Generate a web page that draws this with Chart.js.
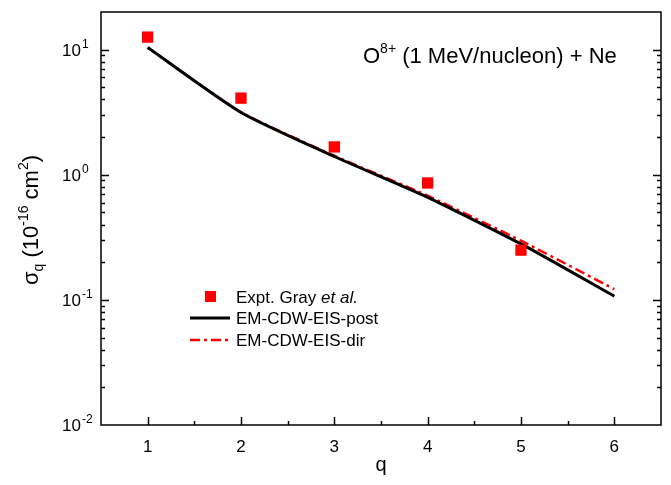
<!DOCTYPE html>
<html>
<head>
<meta charset="utf-8">
<script src="https://cdn.jsdelivr.net/npm/chart.js@4.4.0/dist/chart.umd.min.js"></script>
<style>
  html, body { margin: 0; padding: 0; background: #fff; }
  #wrap { width: 671px; height: 485px; }
</style>
</head>
<body>
<div id="wrap"><canvas id="c" width="671" height="485"></canvas></div>
<script>
// Single-electron capture cross sections, O8+ (1 MeV/nucleon) + Ne
const qValues = [1, 2, 3, 4, 5, 6];
const exptQ = [1, 2, 3, 4, 5];
const exptSigma = [12.6, 4.1, 1.67, 0.86, 0.25];
const postSigma = [10.4, 3.15, 1.40, 0.66, 0.28, 0.107];
const dirSigma = [10.4, 3.17, 1.42, 0.68, 0.297, 0.122];

const xTickValues = [1, 2, 3, 4, 5, 6];
const xTickLabels = ['1', '2', '3', '4', '5', '6'];
const yDecades = [0.01, 0.1, 1, 10];
const yExponents = ['-2', '-1', '0', '1'];

const FONT = '"Liberation Sans", Arial, Helvetica, sans-serif';
const RED = '#ff0000';

const pts = (xs, ys) => xs.map((x, i) => ({ x: x, y: ys[i] }));

// Frame, inward ticks, tick labels, axis titles, annotation and legend
const framePlugin = {
  id: 'frame',
  afterDraw(chart) {
    const ctx = chart.ctx;
    const a = chart.chartArea;
    const xs = chart.scales.x, ys = chart.scales.y;
    ctx.save();
    ctx.strokeStyle = '#000';
    ctx.fillStyle = '#000';
    ctx.lineWidth = 1.5;
    ctx.strokeRect(a.left, a.top, a.right - a.left, a.bottom - a.top);

    // x ticks (major + half-step minor), pointing up into the plot
    ctx.beginPath();
    for (let v = xs.min; v <= xs.max + 1e-9; v += 0.5) {
      const px = Math.round(xs.getPixelForValue(v)) + 0.5;
      if (px <= a.left + 1 || px >= a.right - 1) continue;
      const len = Number.isInteger(v) ? 8 : 4;
      ctx.moveTo(px, a.bottom);
      ctx.lineTo(px, a.bottom - len);
    }
    // y ticks on left and right
    for (const d of yDecades) {
      for (let k = 1; k <= 9; k++) {
        const v = d * k;
        if (v < ys.min || v > ys.max) continue;
        const py = Math.round(ys.getPixelForValue(v)) + 0.5;
        if (py <= a.top + 1 || py >= a.bottom - 1) continue;
        const len = k === 1 ? 8 : 4;
        ctx.moveTo(a.left, py); ctx.lineTo(a.left + len, py);
        ctx.moveTo(a.right, py); ctx.lineTo(a.right - len, py);
      }
    }
    ctx.stroke();

    // x tick labels
    ctx.font = '17px ' + FONT;
    ctx.textAlign = 'center';
    ctx.textBaseline = 'alphabetic';
    xTickValues.forEach((v, i) => {
      ctx.fillText(xTickLabels[i], xs.getPixelForValue(v), a.bottom + 27);
    });

    // y tick labels: 10 with superscript exponent
    yDecades.forEach((v, i) => {
      const py = ys.getPixelForValue(v);
      ctx.font = '17px ' + FONT;
      ctx.textAlign = 'right';
      ctx.fillText('10', 81, py + 6);
      ctx.font = '12px ' + FONT;
      ctx.textAlign = 'left';
      ctx.fillText(yExponents[i], 82, py - 2);
    });

    // x axis title
    ctx.font = '20px ' + FONT;
    ctx.textAlign = 'center';
    ctx.fillText('q', (a.left + a.right) / 2, 471);

    // y axis title, rotated: σq (10^-16 cm^2)
    ctx.save();
    ctx.translate(38, 220);
    ctx.rotate(-Math.PI / 2);
    const parts = [
      { t: 'σ', f: 22, dy: 0 },
      { t: 'q', f: 14, dy: 5 },
      { t: ' (10', f: 22, dy: 0 },
      { t: '-16', f: 14, dy: -10 },
      { t: ' cm', f: 22, dy: 0 },
      { t: '2', f: 14, dy: -10 },
      { t: ')', f: 22, dy: 0 }
    ];
    let total = 0;
    parts.forEach(p => { ctx.font = p.f + 'px ' + FONT; p.w = ctx.measureText(p.t).width; total += p.w; });
    let cx = -total / 2;
    ctx.textAlign = 'left';
    parts.forEach(p => {
      ctx.font = p.f + 'px ' + FONT;
      ctx.fillText(p.t, cx, p.dy);
      cx += p.w;
    });
    ctx.restore();

    // annotation
    let ax = 363;
    const ab = 63;
    ctx.textAlign = 'left';
    ctx.font = '22px ' + FONT;
    ctx.fillText('O', ax, ab);
    ax += ctx.measureText('O').width;
    ctx.font = '14px ' + FONT;
    ctx.fillText('8+', ax, ab - 10);
    ax += ctx.measureText('8+').width;
    ctx.font = '22px ' + FONT;
    ctx.fillText(' (1 MeV/nucleon) + Ne', ax, ab);

    // legend
    const lx = 236;
    ctx.font = '17px ' + FONT;
    ctx.fillStyle = RED;
    ctx.fillRect(205, 291, 11, 11);
    ctx.fillStyle = '#000';
    ctx.fillText('Expt. Gray ', lx, 303);
    const w1 = ctx.measureText('Expt. Gray ').width;
    ctx.font = 'italic 17px ' + FONT;
    ctx.fillText('et al.', lx + w1, 303);
    ctx.font = '17px ' + FONT;
    ctx.fillText('EM-CDW-EIS-post', lx, 324);
    ctx.fillText('EM-CDW-EIS-dir', lx, 346);

    ctx.lineWidth = 3;
    ctx.beginPath();
    ctx.moveTo(190, 318); ctx.lineTo(230, 318);
    ctx.stroke();
    ctx.strokeStyle = RED;
    ctx.lineWidth = 2.5;
    ctx.setLineDash([10, 4, 3, 4]);
    ctx.beginPath();
    ctx.moveTo(190, 340); ctx.lineTo(230, 340);
    ctx.stroke();
    ctx.restore();
  }
};

new Chart(document.getElementById('c'), {
  type: 'line',
  data: {
    datasets: [
      {
        label: 'Expt. Gray et al.',
        data: pts(exptQ, exptSigma),
        showLine: false,
        pointStyle: 'rect',
        pointRadius: 8,
        backgroundColor: RED,
        borderColor: RED,
        borderWidth: 0,
        order: 0
      },
      {
        label: 'EM-CDW-EIS-post',
        data: pts(qValues, postSigma),
        borderColor: '#000',
        borderWidth: 3,
        pointRadius: 0,
        tension: 0.2,
        fill: false,
        order: 1
      },
      {
        label: 'EM-CDW-EIS-dir',
        data: pts(qValues, dirSigma),
        borderColor: RED,
        borderWidth: 2.5,
        borderDash: [10, 4, 3, 4],
        pointRadius: 0,
        tension: 0.2,
        fill: false,
        order: 2
      }
    ]
  },
  options: {
    responsive: false,
    animation: false,
    devicePixelRatio: 1,
    layout: { padding: { top: 12, right: 10, left: 0, bottom: 0 } },
    plugins: { legend: { display: false }, tooltip: { enabled: false } },
    scales: {
      x: {
        type: 'linear',
        min: 0.5,
        max: 6.5,
        grid: { display: false },
        border: { display: false },
        ticks: { display: false },
        afterFit(s) { s.height = 60; }
      },
      y: {
        type: 'logarithmic',
        min: 0.01,
        max: 20,
        grid: { display: false },
        border: { display: false },
        ticks: { display: false },
        afterFit(s) { s.width = 101; }
      }
    }
  },
  plugins: [framePlugin]
});
</script>
</body>
</html>
